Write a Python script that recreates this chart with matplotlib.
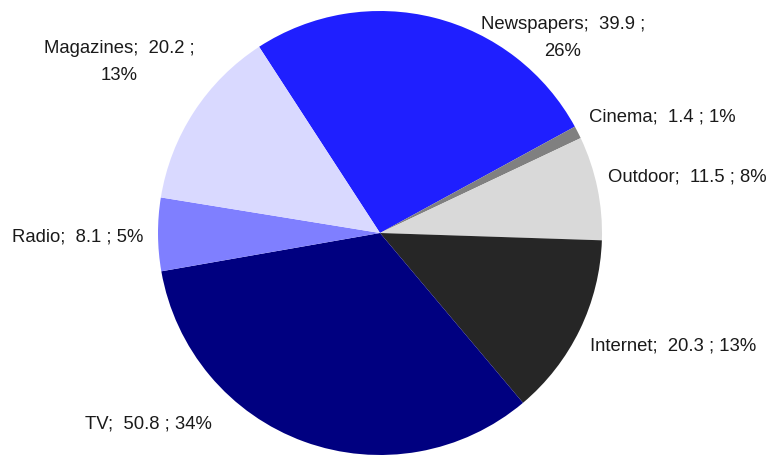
import matplotlib
matplotlib.use("Agg")
import matplotlib.pyplot as plt
from matplotlib import font_manager

categories = ["Newspapers", "Cinema", "Outdoor", "Internet", "TV", "Radio", "Magazines"]
values = [39.9, 1.4, 11.5, 20.3, 50.8, 8.1, 20.2]
percent_labels = ["26%", "1%", "8%", "13%", "34%", "5%", "13%"]
colors = ["#1F1FFF", "#808080", "#D9D9D9", "#262626", "#000080", "#7F7FFF", "#D9D9FF"]

names = {f.name for f in font_manager.fontManager.ttflist}
family = ["Liberation Sans Narrow"] if "Liberation Sans Narrow" in names else ["Liberation Sans"]
family += ["DejaVu Sans"]

fig = plt.figure(figsize=(7.72, 4.55), dpi=100)
W, H = 772, 455
cx, cy, r = 380, 233, 222
ax = fig.add_axes([(cx - r) / W, (H - cy - r) / H, 2 * r / W, 2 * r / H])
ax.pie(values, colors=colors, startangle=123, counterclock=False,
       radius=1.0, wedgeprops=dict(linewidth=0))
ax.set_xlim(-1, 1)
ax.set_ylim(-1, 1)
ax.set_aspect("equal")
ax.axis("off")

# label anchor points (pixel centres) and line layout for each slice
label_pos = {
    "Newspapers": (563, 38, True),
    "Cinema": (662, 117, False),
    "Outdoor": (687, 177, False),
    "Internet": (673, 346, False),
    "TV": (148, 424, False),
    "Radio": (78, 237, False),
    "Magazines": (119, 62, True),
}

for name, val, pct in zip(categories, values, percent_labels):
    x, y, wrap = label_pos[name]
    if wrap:
        txt = f"{name};  {val} ;\n{pct}"
    else:
        txt = f"{name};  {val} ; {pct}"
    fig.text(x / W, 1 - y / H, txt, ha="center", va="center",
             fontsize=13.3, family=family, color="#1a1a1a", linespacing=1.75)

fig.savefig("out.png", dpi=100)
